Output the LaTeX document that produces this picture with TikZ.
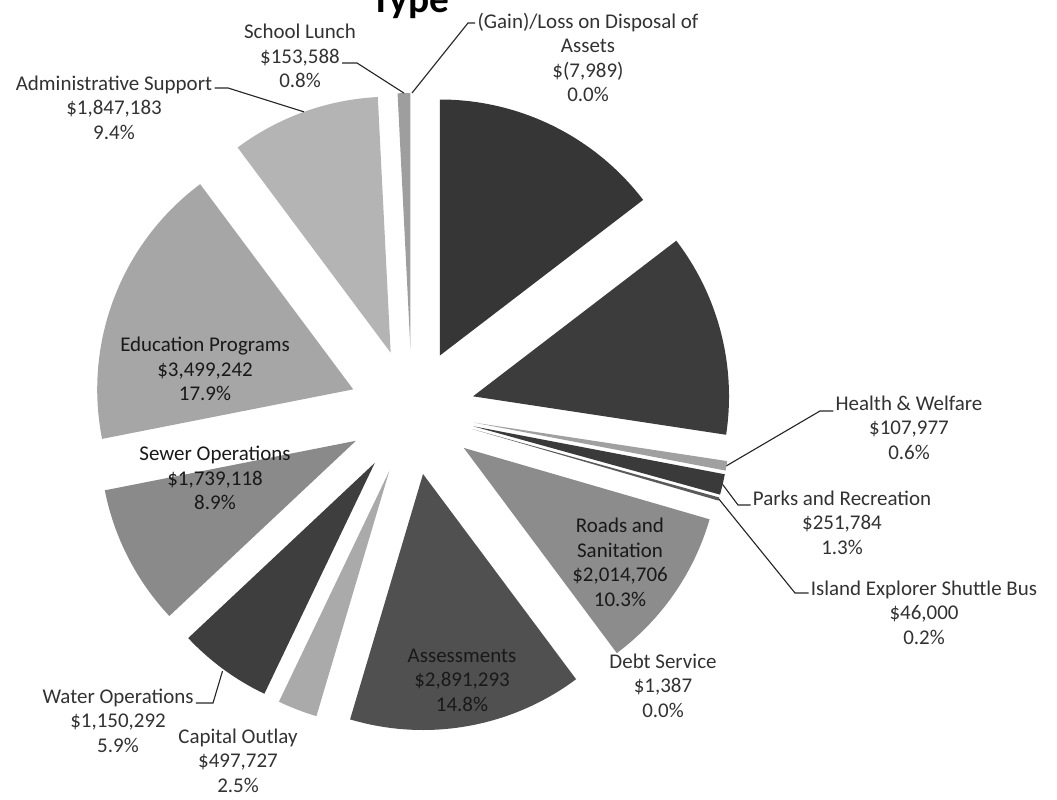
\documentclass[tikz,border=0pt]{standalone}
\usepackage{fontspec}
\setmainfont{Carlito}
\usetikzlibrary{positioning}

\definecolor{govgray}{RGB}{54,54,54}
\definecolor{pubgray}{RGB}{60,60,60}
\definecolor{hwgray}{RGB}{160,160,160}
\definecolor{parkgray}{RGB}{58,58,58}
\definecolor{busgray}{RGB}{90,90,90}
\definecolor{roadgray}{RGB}{140,140,140}
\definecolor{assessgray}{RGB}{80,80,80}
\definecolor{capgray}{RGB}{170,170,170}
\definecolor{watergray}{RGB}{62,62,62}
\definecolor{sewergray}{RGB}{138,138,138}
\definecolor{edugray}{RGB}{166,166,166}
\definecolor{admgray}{RGB}{180,180,180}
\definecolor{lunchgray}{RGB}{158,158,158}
\definecolor{labelgray}{RGB}{50,50,50}

\begin{document}
\begin{tikzpicture}[x=0.025cm, y=0.025cm, node distance=0.6125cm]
    \tikzstyle{lbl} = [text=labelgray, inner sep=1.5pt, text height=10.5pt,
	text depth=3.2pt, font=\fontsize{14.9}{17.4}\selectfont]
    \tikzstyle{inlbl} = [text=black!90, align=center, inner sep=0pt,
	font=\fontsize{14.9}{17.4}\selectfont]
    \tikzstyle{leader} = [draw=black!85, line width=0.8pt]
    \tikzstyle{heading} = [text=black, anchor=base, inner sep=0pt,
	font=\fontsize{28}{30}\selectfont\bfseries]

	\useasboundingbox (0,0) rectangle (1057,800);
	\clip (0,0) rectangle (1057,800);

	\node[heading] (title) at (410,787) {Type};

	% exploded wedges, clockwise from the top
	\begin{scope}[shift={(412,388)}]
		\fill[govgray, shift={(63.72:63)}] (0,0) -- (90:256)
			arc[start angle=90, end angle=37.44, radius=256] -- cycle;
		\fill[pubgray, shift={(14.4:63)}] (0,0) -- (37.44:256)
			arc[start angle=37.44, end angle=-8.64, radius=256] -- cycle;
		\fill[hwgray, shift={(-9.72:63)}] (0,0) -- (-8.64:256)
			arc[start angle=-8.64, end angle=-10.8, radius=256] -- cycle;
		\fill[parkgray, shift={(-13.14:63)}] (0,0) -- (-10.8:256)
			arc[start angle=-10.8, end angle=-15.48, radius=256] -- cycle;
		\fill[busgray, shift={(-15.84:63)}] (0,0) -- (-15.48:256)
			arc[start angle=-15.48, end angle=-16.2, radius=256] -- cycle;
		\fill[roadgray, shift={(-34.74:63)}] (0,0) -- (-16.2:256)
			arc[start angle=-16.2, end angle=-53.28, radius=256] -- cycle;
		\fill[assessgray, shift={(-79.92:63)}] (0,0) -- (-53.28:256)
			arc[start angle=-53.28, end angle=-106.56, radius=256] -- cycle;
		\fill[capgray, shift={(-111.06:63)}] (0,0) -- (-106.56:256)
			arc[start angle=-106.56, end angle=-115.56, radius=256] -- cycle;
		\fill[watergray, shift={(-126.18:63)}] (0,0) -- (-115.56:256)
			arc[start angle=-115.56, end angle=-136.8, radius=256] -- cycle;
		\fill[sewergray, shift={(-152.82:63)}] (0,0) -- (-136.8:256)
			arc[start angle=-136.8, end angle=-168.84, radius=256] -- cycle;
		\fill[edugray, shift={(158.94:63)}] (0,0) -- (191.16:256)
			arc[start angle=191.16, end angle=126.72, radius=256] -- cycle;
		\fill[admgray, shift={(109.8:63)}] (0,0) -- (126.72:256)
			arc[start angle=126.72, end angle=92.88, radius=256] -- cycle;
		\fill[lunchgray, shift={(91.44:63)}] (0,0) -- (92.88:256)
			arc[start angle=92.88, end angle=90, radius=256] -- cycle;

		% leader tips on the rim
		\coordinate (gltip) at (90:319);
		\coordinate (sltip) at (91.44:319);
		\coordinate (admtip) at (109.8:319);
		\coordinate (hwtip) at (-9.72:319);
		\coordinate (pktip) at (-13.14:319);
		\coordinate (ietip) at (-15.84:319);
		\coordinate (wotip) at (-126.18:321);
	\end{scope}

	% labels inside the wedges
	\node[inlbl] (edu) at (205,431) {Education Programs\\\$3,499,242\\17.9\%};
	\node[inlbl] (sew) at (215,322) {Sewer Operations\\\$1,739,118\\8.9\%};
	\node[inlbl] (rds) at (620,237.5) {Roads and\\Sanitation\\\$2,014,706\\10.3\%};
	\node[inlbl] (asm) at (462,120) {Assessments\\\$2,891,293\\14.8\%};

	% labels outside
	\node[lbl] (gl) at (588,777) {(Gain)/Loss on Disposal of};
	\node[lbl, below of=gl] (glv) {Assets};
	\node[lbl, below of=glv] (gla) {\$(7,989)};
	\node[lbl, below of=gla] (glp) {0.0\%};

	\node[lbl] (sl) at (300,742) {\$153,588};
	\node[lbl, above of=sl] (sln) {School Lunch};
	\node[lbl, below of=sl] (slp) {0.8\%};

	\node[lbl] (adm) at (114,715) {Administrative Support};
	\node[lbl, below of=adm] (admv) {\$1,847,183};
	\node[lbl, below of=admv] (admp) {9.4\%};

	\node[lbl] (hw) at (909,395) {Health \& Welfare};
	\node[lbl, below of=hw] (hwv) {\$107,977};
	\node[lbl, below of=hwv] (hwp) {0.6\%};

	\node[lbl] (pk) at (842,300) {Parks and Recreation};
	\node[lbl, below of=pk] (pkv) {\$251,784};
	\node[lbl, below of=pkv] (pkp) {1.3\%};

	\node[lbl] (ie) at (924,210) {Island Explorer Shuttle Bus};
	\node[lbl, below of=ie] (iev) {\$46,000};
	\node[lbl, below of=iev] (iep) {0.2\%};

	\node[lbl] (ds) at (663,137) {Debt Service};
	\node[lbl, below of=ds] (dsv) {\$1,387};
	\node[lbl, below of=dsv] (dsp) {0.0\%};

	\node[lbl] (co) at (238,62) {Capital Outlay};
	\node[lbl, below of=co] (cov) {\$497,727};
	\node[lbl, below of=cov] (cop) {2.5\%};

	\node[lbl] (wo) at (118,102) {Water Operations};
	\node[lbl, below of=wo] (wov) {\$1,150,292};
	\node[lbl, below of=wov] (wop) {5.9\%};

	% leader lines
	\coordinate (glbend) at (468,777);
	\coordinate (slbend) at (357,737);
	\coordinate (admbend) at (228,712);
	\coordinate (hwbend) at (820,389);
	\coordinate (pkbend) at (738,295);
	\coordinate (iebend) at (795,207);
	\coordinate (wobend) at (213,97);

	\draw[leader] (gltip) -- (glbend) -- (glbend -| gl.west);
	\draw[leader] (sltip) -- (slbend) -- (slbend -| sl.east);
	\draw[leader] (admtip) -- (admbend) -- (admbend -| adm.east);
	\draw[leader] (hwtip) -- (hwbend) -- (hwbend -| hw.west);
	\draw[leader] (pktip) -- (pkbend) -- (pkbend -| pk.west);
	\draw[leader] (ietip) -- (iebend) -- (iebend -| ie.west);
	\draw[leader] (wotip) -- (wobend) -- (wobend -| wo.east);
\end{tikzpicture}
\end{document}
